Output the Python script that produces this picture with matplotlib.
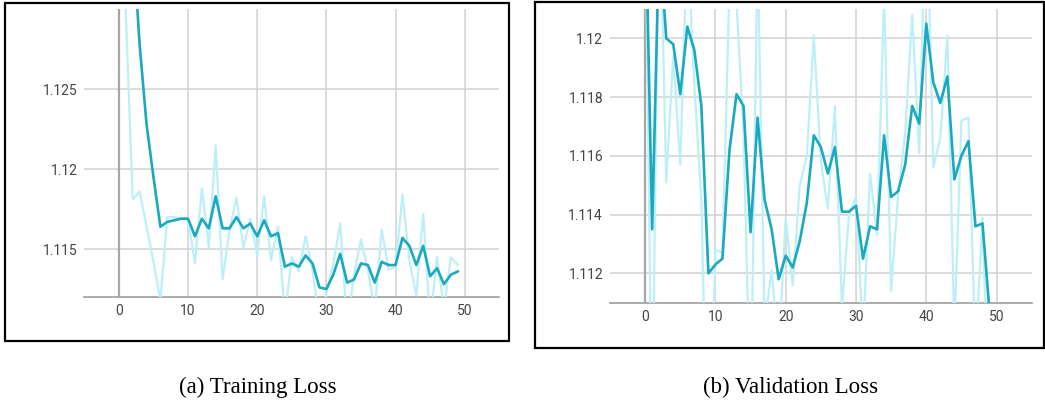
import matplotlib.pyplot as plt
import numpy as np
from matplotlib.patches import Rectangle

# эпохи
epochs = np.arange(50)

# training loss: сырые значения (светлая линия) и сглаженные (тёмная)
train_raw = [1.1557, 1.1298, 1.1181, 1.1186, 1.1164, 1.1142, 1.1118, 1.1170, 1.1170, 1.1169,
             1.1169, 1.1141, 1.1188, 1.1151, 1.1215, 1.1131, 1.1162, 1.1182, 1.1151, 1.1169,
             1.1146, 1.1183, 1.1143, 1.1164, 1.1108, 1.1145, 1.1136, 1.1158, 1.1137, 1.1104,
             1.1122, 1.1141, 1.1166, 1.1102, 1.1134, 1.1156, 1.1137, 1.1112, 1.1162, 1.1137,
             1.1139, 1.1184, 1.1143, 1.1121, 1.1172, 1.1105, 1.1145, 1.1113, 1.1145, 1.1140]
train_smooth = [1.1557, 1.1454, 1.1345, 1.1278, 1.1228, 1.1195, 1.1164, 1.1167, 1.1168, 1.1169,
                1.1169, 1.1158, 1.1169, 1.1163, 1.1183, 1.1163, 1.1163, 1.1170, 1.1163, 1.1166,
                1.1158, 1.1168, 1.1158, 1.1160, 1.1139, 1.1141, 1.1139, 1.1146, 1.1141, 1.1126,
                1.1125, 1.1134, 1.1147, 1.1129, 1.1131, 1.1141, 1.1140, 1.1129, 1.1142, 1.1140,
                1.1140, 1.1157, 1.1152, 1.1140, 1.1152, 1.1133, 1.1138, 1.1128, 1.1134, 1.1136]

# validation loss
val_raw = [1.1250, 1.1060, 1.1260, 1.1151, 1.1194, 1.1157, 1.1235, 1.1184, 1.1145, 1.1040,
           1.1128, 1.1127, 1.1218, 1.1212, 1.1168, 1.1070, 1.1232, 1.1103, 1.1121, 1.1093,
           1.1139, 1.1116, 1.1150, 1.1160, 1.1201, 1.1158, 1.1142, 1.1177, 1.1108, 1.1140,
           1.1146, 1.1098, 1.1154, 1.1133, 1.1215, 1.1114, 1.1147, 1.1168, 1.1208, 1.1161,
           1.1256, 1.1156, 1.1166, 1.1201, 1.1100, 1.1172, 1.1173, 1.1093, 1.1139, 1.1062]
val_smooth = [1.1250, 1.1135, 1.1235, 1.1200, 1.1198, 1.1181, 1.1204, 1.1196, 1.1177, 1.1120,
              1.1123, 1.1125, 1.1162, 1.1181, 1.1177, 1.1134, 1.1173, 1.1145, 1.1135, 1.1118,
              1.1126, 1.1122, 1.1131, 1.1144, 1.1167, 1.1163, 1.1154, 1.1163, 1.1141, 1.1141,
              1.1143, 1.1125, 1.1136, 1.1135, 1.1167, 1.1146, 1.1148, 1.1157, 1.1177, 1.1171,
              1.1205, 1.1185, 1.1178, 1.1187, 1.1152, 1.1160, 1.1165, 1.1136, 1.1137, 1.1107]

x_ticks = [0, 10, 20, 30, 40, 50]
train_yticks = [1.115, 1.12, 1.125]
train_ylabels = ['1.115', '1.12', '1.125']
val_yticks = [1.112, 1.114, 1.116, 1.118, 1.12]
val_ylabels = ['1.112', '1.114', '1.116', '1.118', '1.12']

captions = ['(a) Training Loss', '(b) Validation Loss']

c_dark = '#1aa9be'
c_light = '#bdf0f6'
W, H = 1045, 404

fig = plt.figure(figsize=(W / 100, H / 100), dpi=100)


def px_rect(x0, y0, x1, y1):
    # пиксели (от верхнего левого угла) -> доли фигуры
    return [x0 / W, 1 - y1 / H, (x1 - x0) / W, (y1 - y0) / H]


def panel(rect, raw, smooth, ylim, yticks, ylabels):
    ax = fig.add_axes(rect)
    ax.plot(epochs, raw, color=c_light, lw=1.6, zorder=3)
    ax.plot(epochs, smooth, color=c_dark, lw=1.9, zorder=4)
    ax.set_xlim(-5, 55)
    ax.set_ylim(*ylim)
    ax.set_xticks(x_ticks)
    ax.set_yticks(yticks)
    ax.set_yticklabels(ylabels)
    ax.grid(True, color='#d2d2d2', lw=1.1, zorder=1)
    ax.axvline(0, color='#a6a6a6', lw=1.6, zorder=2)
    for s in ['top', 'right', 'left']:
        ax.spines[s].set_visible(False)
    ax.spines['bottom'].set_color('#9e9e9e')
    ax.spines['bottom'].set_linewidth(1.2)
    ax.tick_params(length=0, labelsize=10, labelcolor='#444444', pad=5)
    for lab in ax.get_xticklabels() + ax.get_yticklabels():
        lab.set_family('Roboto')
    return ax


panel(px_rect(84.3, 9.3, 499.3, 296.7), train_raw, train_smooth,
      (1.11202, 1.13), train_yticks, train_ylabels)
panel(px_rect(610, 9.3, 1031.7, 303.3), val_raw, val_smooth,
      (1.11098, 1.12099), val_yticks, val_ylabels)

# чёрные рамки вокруг панелей
for r in [px_rect(5, 3, 509, 341), px_rect(535, 1.7, 1043.5, 348)]:
    fig.patches.append(Rectangle((r[0], r[1]), r[2], r[3], transform=fig.transFigure,
                                 fill=False, edgecolor='black', lw=1.6))

fig.text(258 / W, 1 - 387 / H, captions[0], ha='center', va='center',
         family='Liberation Serif', fontsize=16.5)
fig.text(791 / W, 1 - 387 / H, captions[1], ha='center', va='center',
         family='Liberation Serif', fontsize=16.5)

fig.savefig('out.png', dpi=100)
